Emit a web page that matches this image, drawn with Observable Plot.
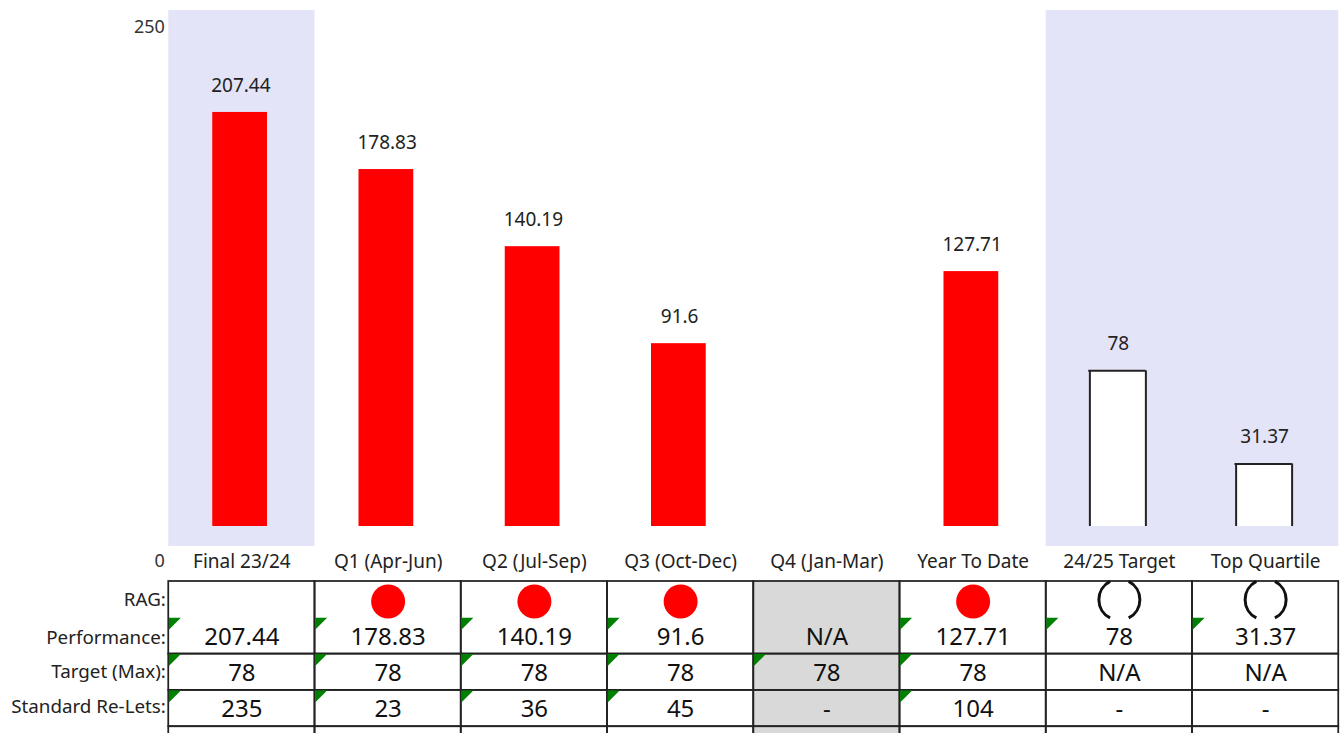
<!DOCTYPE html>
<html>
<head>
<meta charset="utf-8">
<script src="https://cdn.jsdelivr.net/npm/d3@7"></script>
<script src="https://cdn.jsdelivr.net/npm/@observablehq/plot@0.6"></script>
<style>
html,body{margin:0;padding:0;background:#fff;overflow:hidden}
svg{display:block}
</style>
</head>
<body>
<div id="chart"></div>
<script>
const categories = ["Final 23/24","Q1 (Apr-Jun)","Q2 (Jul-Sep)","Q3 (Oct-Dec)","Q4 (Jan-Mar)","Year To Date","24/25 Target","Top Quartile"];
const performance = [207.44,178.83,140.19,91.6,null,127.71,78,31.37];
const shaded = ["Final 23/24","24/25 Target","Top Quartile"];
const outlined = ["24/25 Target","Top Quartile"];
const rag = [null,"red","red","red",null,"red","open","open"];
const perfText = ["207.44","178.83","140.19","91.6","N/A","127.71","78","31.37"];
const targetText = ["78","78","78","78","78","78","N/A","N/A"];
const reletText = ["235","23","36","45","-","104","-","-"];
const rowLabels = ["RAG:","Performance:","Target (Max):","Standard Re-Lets:"];
const font = "'Noto Sans', sans-serif";
const bars = categories.map((c,i)=>({c,v:performance[i]})).filter(d=>d.v!=null);
const solidBars = bars.filter(d=>!outlined.includes(d.c));
const openBars = bars.filter(d=>outlined.includes(d.c));
const xOpt = {domain:categories,range:[168.25,1338.25],padding:0,round:false,axis:null};

const chart = Plot.plot({
  width:1342,height:577,margin:0,marginBottom:27,
  style:{fontFamily:font,fontSize:"18px",color:"#222",background:"#fff"},
  x:xOpt,
  y:{domain:[0,250],range:[526,27],axis:null},
  marks:[
    Plot.barY(shaded,{x:d=>d,y1:0,y2:250,fill:"#e4e4f8",insetTop:-17,insetBottom:-20}),
    Plot.barY(solidBars,{x:"c",y:"v",fill:"#ff0000",insetLeft:44,insetRight:47.5}),
    Plot.barY(openBars,{x:"c",y:"v",fill:"#fff",insetLeft:43.5,insetRight:47}),
    Plot.ruleX(openBars,{x:"c",y1:0,y2:"v",dx:-29.5,stroke:"#222",strokeWidth:2}),
    Plot.ruleX(openBars,{x:"c",y1:0,y2:"v",dx:26.5,stroke:"#222",strokeWidth:2}),
    Plot.tickY(openBars,{x:"c",y:"v",insetLeft:42.5,insetRight:46.5,stroke:"#222",strokeWidth:2}),
    Plot.text(bars,{x:"c",y:"v",text:d=>String(d.v),dy:-27,fontSize:19,dx:-1,fill:"#222"}),
    Plot.text([250],{x:()=>categories[0],y:d=>d,text:d=>String(d),dx:-77,textAnchor:"end",fontSize:18,fill:"#333"}),
    Plot.text([0],{x:()=>categories[0],y:d=>d,text:d=>String(d),dx:-77,dy:35,textAnchor:"end",fontSize:18,fill:"#333"}),
    Plot.axisX({domain:categories,anchor:"bottom",tickSize:0,tickPadding:4,fontSize:19,label:null,fill:"#222"})
  ]
});

const cells = [];
categories.forEach(c=>{
  cells.push({c,y1:0,y2:2},{c,y1:2,y2:3},{c,y1:3,y2:4},{c,y1:4,y2:5});
});
const grey = cells.filter(d=>d.c==="Q4 (Jan-Mar)");
const flags = [];
categories.forEach((c,i)=>{
  if(perfText[i]!=="N/A") flags.push({c,y:1});
  if(targetText[i]!=="N/A") flags.push({c,y:2});
  if(reletText[i]!=="-") flags.push({c,y:3});
});
const flagSymbol = {draw(ctx){ctx.moveTo(0,0);ctx.lineTo(12,0);ctx.lineTo(0,12);ctx.closePath();}};
const parenSymbol = {draw(ctx){
  const r=20.5;
  const a=1.1;
  ctx.moveTo(-r*Math.cos(a),-r*Math.sin(a));
  ctx.arc(0,0,r,Math.PI+a,Math.PI-a,true);
  ctx.moveTo(r*Math.cos(a),-r*Math.sin(a));
  ctx.arc(0,0,r,-a,a,false);
}};
const textRows = [
  ...categories.map((c,i)=>({c,y:1.5,t:perfText[i]})),
  ...categories.map((c,i)=>({c,y:2.5,t:targetText[i]})),
  ...categories.map((c,i)=>({c,y:3.5,t:reletText[i]}))
];
const table = Plot.plot({
  width:1342,height:156,margin:0,
  style:{fontFamily:font,color:"#111",background:"#fff"},
  x:xOpt,
  y:{domain:[0,5],range:[4,185.5],axis:null},
  marks:[
    Plot.barY(grey,{x:"c",y1:"y1",y2:"y2",fill:"#d9d9d9"}),
    Plot.barY(cells,{x:"c",y1:"y1",y2:"y2",fill:"none",stroke:"#222",strokeWidth:1.75}),
    Plot.dot(flags,{x:"c",y:"y",dx:-73,symbol:flagSymbol,fill:"#008000",stroke:"none",r:1}),
    Plot.dot(categories.filter((c,i)=>rag[i]==="red"),{x:d=>d,y:()=>0.55,r:17,fill:"#ff0000"}),
    Plot.dot(categories.filter((c,i)=>rag[i]==="open"),{x:d=>d,y:()=>0.5,symbol:parenSymbol,r:1,fill:"none",stroke:"#111",strokeWidth:3}),
    Plot.text(textRows,{x:"c",y:"y",text:"t",fontSize:24,dy:1,fill:"#111"}),
    Plot.text(rowLabels,{x:()=>categories[0],y:(d,i)=>[0.5,1.55,2.5,3.45][i],text:d=>d,dx:-76,textAnchor:"end",fontSize:18.8,fill:"#222"})
  ]
});
document.getElementById("chart").append(chart,table);
</script>
</body>
</html>
